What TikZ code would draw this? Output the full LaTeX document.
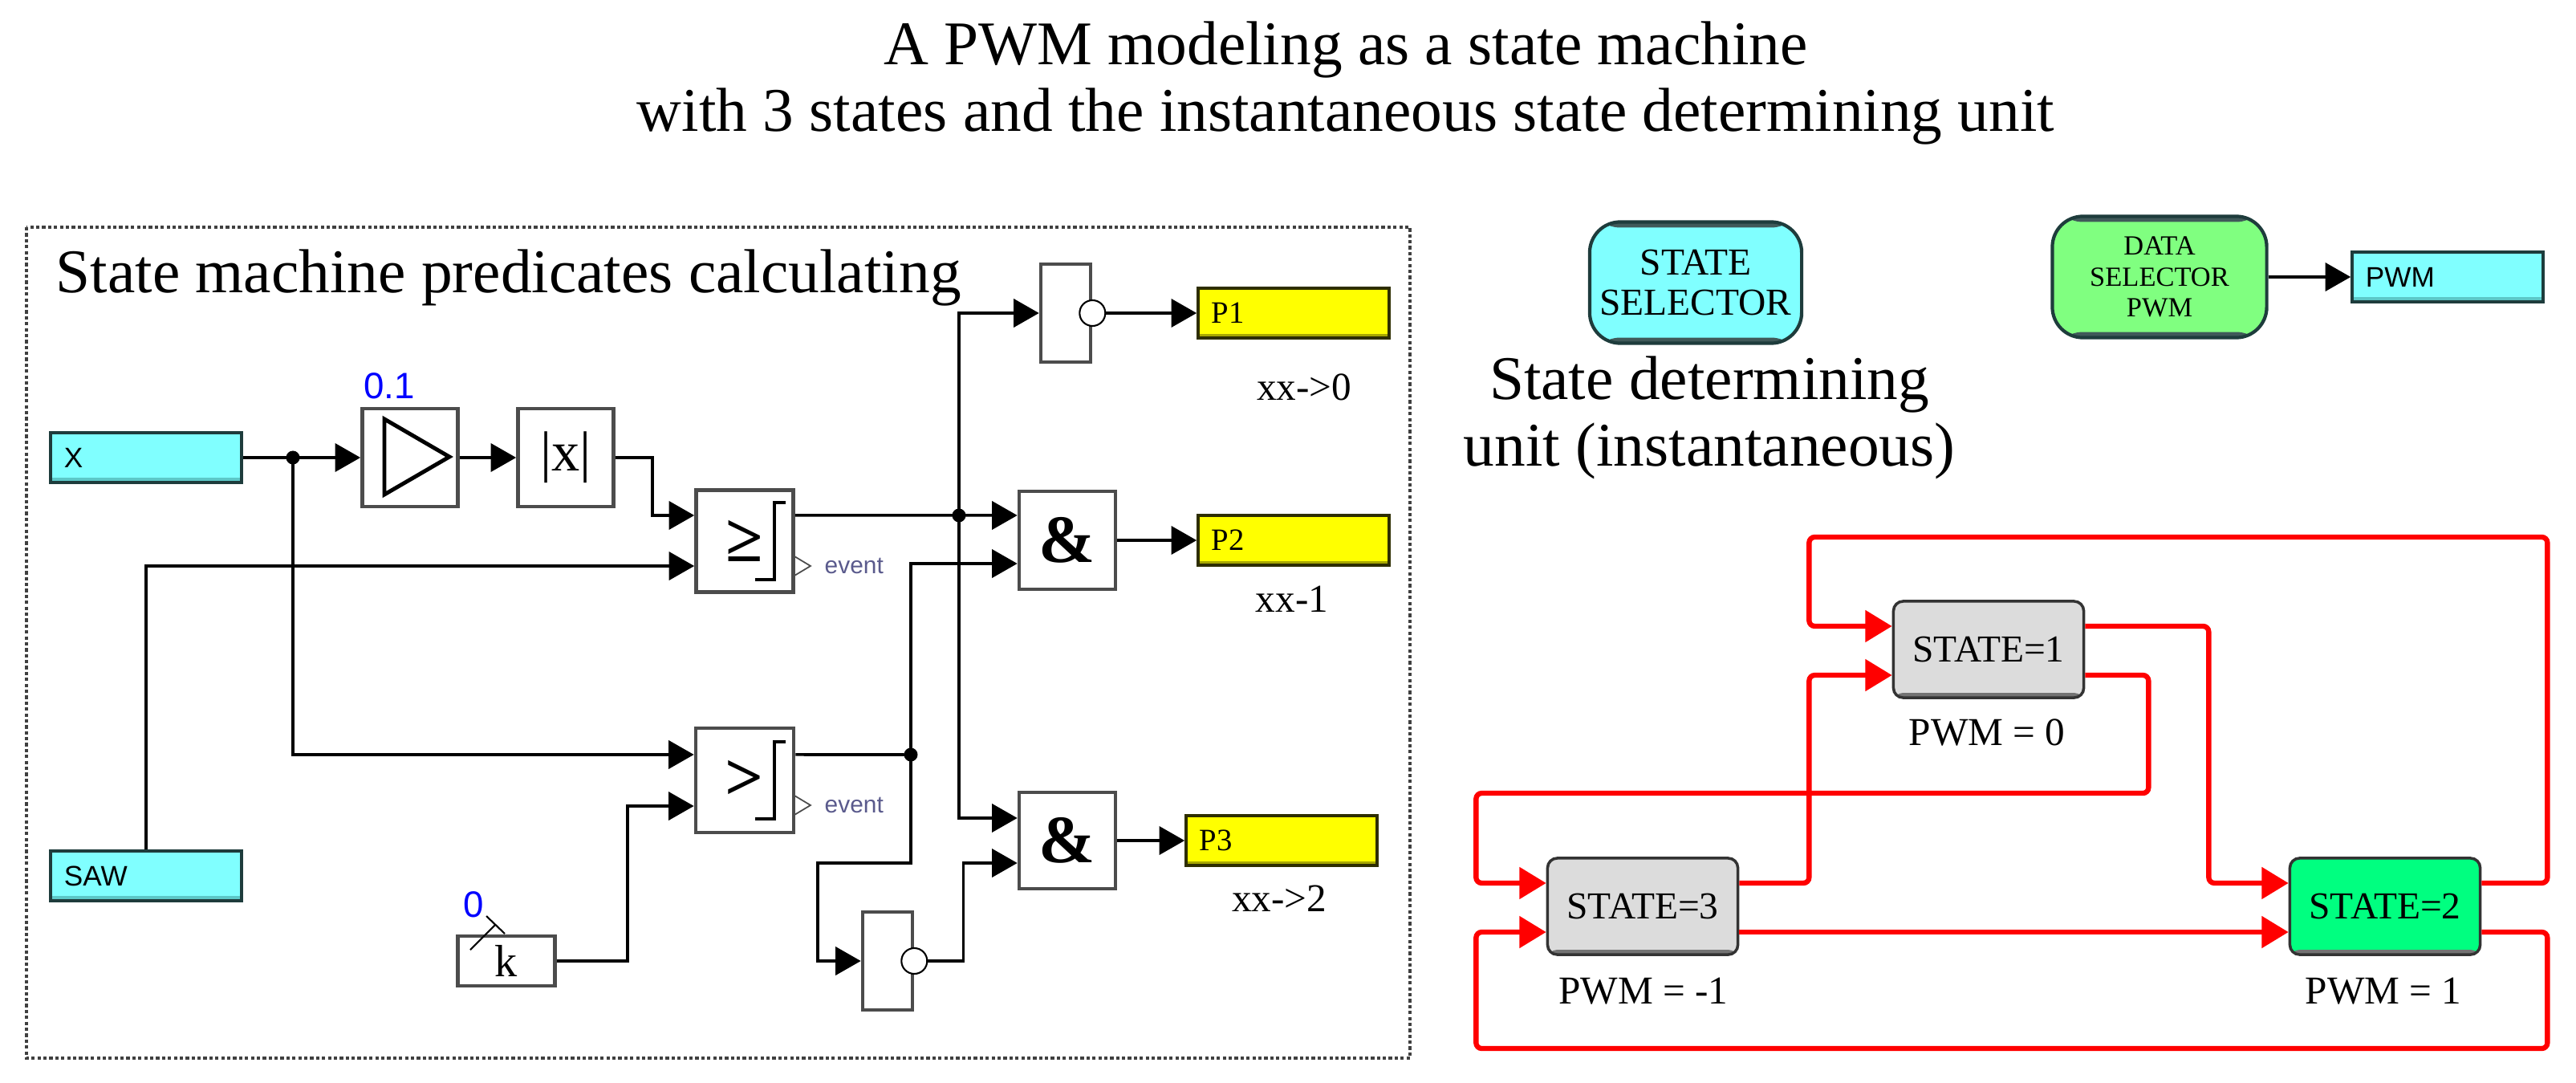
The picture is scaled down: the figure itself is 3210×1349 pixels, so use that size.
\documentclass[tikz,border=0pt]{standalone}
\usepackage{fontspec}
\setmainfont{Liberation Serif}
\setsansfont{Liberation Sans}
\usepackage{xcolor}
\usepackage{tikz}
\usetikzlibrary{arrows.meta}

\definecolor{cyanbox}{HTML}{80FFFF}
\definecolor{cyanedge}{HTML}{1E3C3C}
\definecolor{cyanband}{HTML}{5CC8C8}
\definecolor{yelbox}{HTML}{FFFF00}
\definecolor{yeledge}{HTML}{2E2E00}
\definecolor{yelband}{HTML}{A8A800}
\definecolor{stategray}{HTML}{DCDCDC}
\definecolor{stategreen}{HTML}{00FF80}
\definecolor{dselgreen}{HTML}{80FF80}
\definecolor{evtgray}{HTML}{5A5A8C}
\definecolor{wirered}{HTML}{FF0000}

\newcommand{\bigtxt}{\fontsize{22}{23.6}\selectfont}
\newcommand{\opfont}{\bfseries\fontsize{24}{26}\selectfont}

\tikzset{
  iobox/.style={draw=cyanedge, fill=cyanbox, line width=1pt, minimum width=2.38cm, minimum height=0.62cm,
    inner xsep=0.17cm, text width=2.04cm, align=left, font=\sffamily\fontsize{10}{12}\selectfont,
    path picture={\fill[cyanband] (path picture bounding box.south west) rectangle ([yshift=0.06cm]path picture bounding box.south east);}},
  outbox/.style={iobox, draw=yeledge, fill=yelbox, font=\fontsize{11}{13}\selectfont,
    path picture={\fill[yelband] (path picture bounding box.south west) rectangle ([yshift=0.05cm]path picture bounding box.south east);}},
  blk/.style={draw=black!70, fill=white, line width=1.3pt, inner sep=0pt},
  notc/.style={circle, draw, fill=white, line width=0.6pt, minimum size=0.32cm, inner sep=0pt},
  stbox/.style={draw=black!80, fill=stategray, rounded corners=0.12cm, line width=1pt,
    minimum width=2.37cm, minimum height=1.2cm, font=\fontsize{13.5}{15}\selectfont,
    path picture={\fill[black!55] (path picture bounding box.south west) rectangle ([yshift=0.06cm]path picture bounding box.south east);}},
  selbox/.style={draw=cyanedge, rounded corners=0.38cm, line width=1.2pt, align=center, inner sep=0pt,
    path picture={\fill[cyanedge!85] (path picture bounding box.south west) rectangle ([yshift=0.07cm]path picture bounding box.south east);
      \fill[cyanedge!85] (path picture bounding box.north west) rectangle ([yshift=-0.07cm]path picture bounding box.north east);}},
  note/.style={font=\fontsize{14}{16}\selectfont},
  val/.style={text=blue, font=\sffamily\fontsize{13}{15}\selectfont},
  evt/.style={text=evtgray, font=\sffamily\fontsize{8.5}{10}\selectfont, inner sep=0pt},
  wire/.style={line width=1pt, -{Triangle[length=9pt,width=10pt]}},
  plainwire/.style={line width=1pt},
  redwire/.style={draw=wirered, line width=1.8pt, rounded corners=2pt, -{Triangle[length=9.5pt,width=11pt]}}
}

\begin{document}
\begin{tikzpicture}[x=0.01cm, y=-0.01cm]
        \useasboundingbox (0,0) rectangle (3210,1349);
        % title
        \node[align=center, font=\bigtxt] (title) at (1677,104) {A PWM modeling as a state machine\\with 3 states and the instantaneous state determining unit};

        % predicates part
        \draw[black!75, line width=1pt, dash pattern=on 1.2pt off 0.9pt] (33,283) rectangle (1757,1318);
        \node[anchor=base west, font=\bigtxt, inner sep=0pt] (predtitle) at (69,365) {State machine predicates calculating};

        \node[iobox] (xin) at (182,570) {X};
        \node[iobox] (saw) at (182,1091) {SAW};
        \node[blk, minimum width=1.19cm, minimum height=1.22cm] (gain) at (511,570) {};
        \draw[line width=1.4pt] ([shift={(-32,-48)}]gain.center) -- ([shift={(-32,46)}]gain.center) -- ([shift={(49,-1)}]gain.center) -- cycle;
        \node[val] (gainval) at (485,481) {0.1};
        \node[blk, minimum width=1.19cm, minimum height=1.22cm, font=\fontsize{20}{22}\selectfont] (abs) at (705,570) {|x|};

        \node[blk, minimum width=1.21cm, minimum height=1.27cm, font=\opfont] (ge) at (928,674) {≥};
        \node[blk, minimum width=1.22cm, minimum height=1.30cm, font=\opfont] (gt) at (928,972) {>};
        \foreach \cmp in {ge,gt} {
          \draw[line width=0.9pt] ([shift={(51,-48)}]\cmp.center) -- ++(-14,0) -- ++(0,96) -- ++(-24,0);
          \draw[black!70, line width=0.5pt] ([shift={(62,19)}]\cmp.center) -- ++(20,12) -- ++(-20,12);
          \node[evt, anchor=west] (\cmp evt) at ([shift={(99,31)}]\cmp.center) {event};
        }

        \node[blk, minimum width=1.21cm, minimum height=0.62cm, font=\fontsize{16}{18}\selectfont] (kbox) at (631,1197) {k};
        \node[val] (kval) at (590,1127) {0};
        \draw[line width=0.6pt] ([shift={(-45,-14)}]kbox.center) -- ++(31,-31);
        \draw[line width=0.6pt] ([shift={(-25,-56)}]kbox.center) -- ++(23,22);

        \node[blk, minimum width=0.62cm, minimum height=1.22cm] (not1) at (1328,390) {};
        \node[notc] (not1c) at (not1.east) {};
        \node[blk, minimum width=0.62cm, minimum height=1.22cm] (not2) at (1106,1197) {};
        \node[notc] (not2c) at (not2.east) {};
        \node[blk, minimum width=1.20cm, minimum height=1.22cm, font=\opfont] (and1) at (1330,673) {\&};
        \node[blk, minimum width=1.20cm, minimum height=1.20cm, font=\opfont] (and2) at (1330,1047) {\&};

        \node[outbox] (p1) at (1612,390) {P1};
        \node[outbox] (p2) at (1612,673) {P2};
        \node[outbox] (p3) at (1597,1047) {P3};
        \node[note] (p1note) at (1625,482) {xx->0};
        \node[note] (p2note) at (1610,746) {xx-1};
        \node[note] (p3note) at (1594,1119) {xx->2};

        \coordinate (j1) at (365,570);
        \coordinate (j2) at (1195,642);
        \coordinate (j3) at (1135,940);

        \draw[wire] (xin.east) -- (gain.west);
        \draw[wire] (gain.east) -- (abs.west);
        \draw[wire] (abs.east) -- ++(46,0) |- ([yshift=0.32cm]ge.west);
        \draw[wire] (j1) |- ([yshift=0.32cm]gt.west);
        \draw[wire] (saw.north) |- ([yshift=-0.31cm]ge.west);
        \draw[wire] (kbox.east) -- ++(88,0) |- ([yshift=-0.32cm]gt.west);
        \draw[wire] ([yshift=0.32cm]ge.east) -- ([yshift=0.31cm]and1.west);
        \draw[wire] (j2) |- (not1.west);
        \draw[wire] (j2) |- ([yshift=0.28cm]and2.west);
        \draw[wire] (not1c.east) -- (p1.west);
        \draw[plainwire] ([yshift=0.32cm]gt.east) -- (j3);
        \draw[wire] (j3) |- ([yshift=-0.29cm]and1.west);
        \draw[wire] (j3) -- ++(0,135) -- ++(-116,0) |- (not2.west);
        \draw[wire] (not2c.east) -- ++(44,0) |- ([yshift=-0.28cm]and2.west);
        \draw[wire] (and1.east) -- (p2.west);
        \draw[wire] (and2.east) -- (p3.west);
        \foreach \jn in {j1,j2,j3} \fill (\jn) circle (0.085cm);

        % state determining unit
        \node[selbox, fill=cyanbox, minimum width=2.64cm, minimum height=1.51cm, font=\fontsize{13.5}{14.2}\selectfont] (stsel) at (2113,352) {STATE\\SELECTOR};
        \node[align=center, font=\bigtxt] (detnote) at (2130,520) {State determining\\unit (instantaneous)};
        \node[selbox, fill=dselgreen, minimum width=2.67cm, minimum height=1.51cm, font=\fontsize{9.8}{11}\selectfont] (dsel) at (2691,345) {DATA\\SELECTOR\\PWM};
        \node[iobox] (pwm) at (3050,345) {PWM};
        \draw[wire] (dsel.east) -- (pwm.west);

        % state machine
        \node[stbox] (s1) at (2478,809) {STATE=1};
        \node[stbox] (s3) at (2047,1129) {STATE=3};
        \node[stbox, fill=stategreen] (s2) at (2972,1129) {STATE=2};
        \node[note] (s1pwm) at (2476,912) {PWM = 0};
        \node[note] (s3pwm) at (2048,1235) {PWM = -1};
        \node[note] (s2pwm) at (2970,1235) {PWM = 1};

        \draw[redwire] ([yshift=0.29cm]s1.east) -- ++(154,0) |- ([yshift=0.29cm]s2.west);
        \draw[redwire] ([yshift=-0.32cm]s1.east) -- ++(79,0) -- ++(0,147) -- ++(-838,0) |- ([yshift=0.29cm]s3.west);
        \draw[redwire] ([yshift=0.29cm]s3.east) -- ++(87,0) |- ([yshift=-0.32cm]s1.west);
        \draw[redwire] ([yshift=-0.32cm]s3.east) -- ([yshift=-0.32cm]s2.west);
        \draw[redwire] ([yshift=0.29cm]s2.east) -- ++(82,0) -- ++(0,-431) -- ++(-920,0) |- ([yshift=0.29cm]s1.west);
        \draw[redwire] ([yshift=-0.32cm]s2.east) -- ++(82,0) -- ++(0,145) -- ++(-1335,0) |- ([yshift=-0.32cm]s3.west);
    \end{tikzpicture}
\end{document}
